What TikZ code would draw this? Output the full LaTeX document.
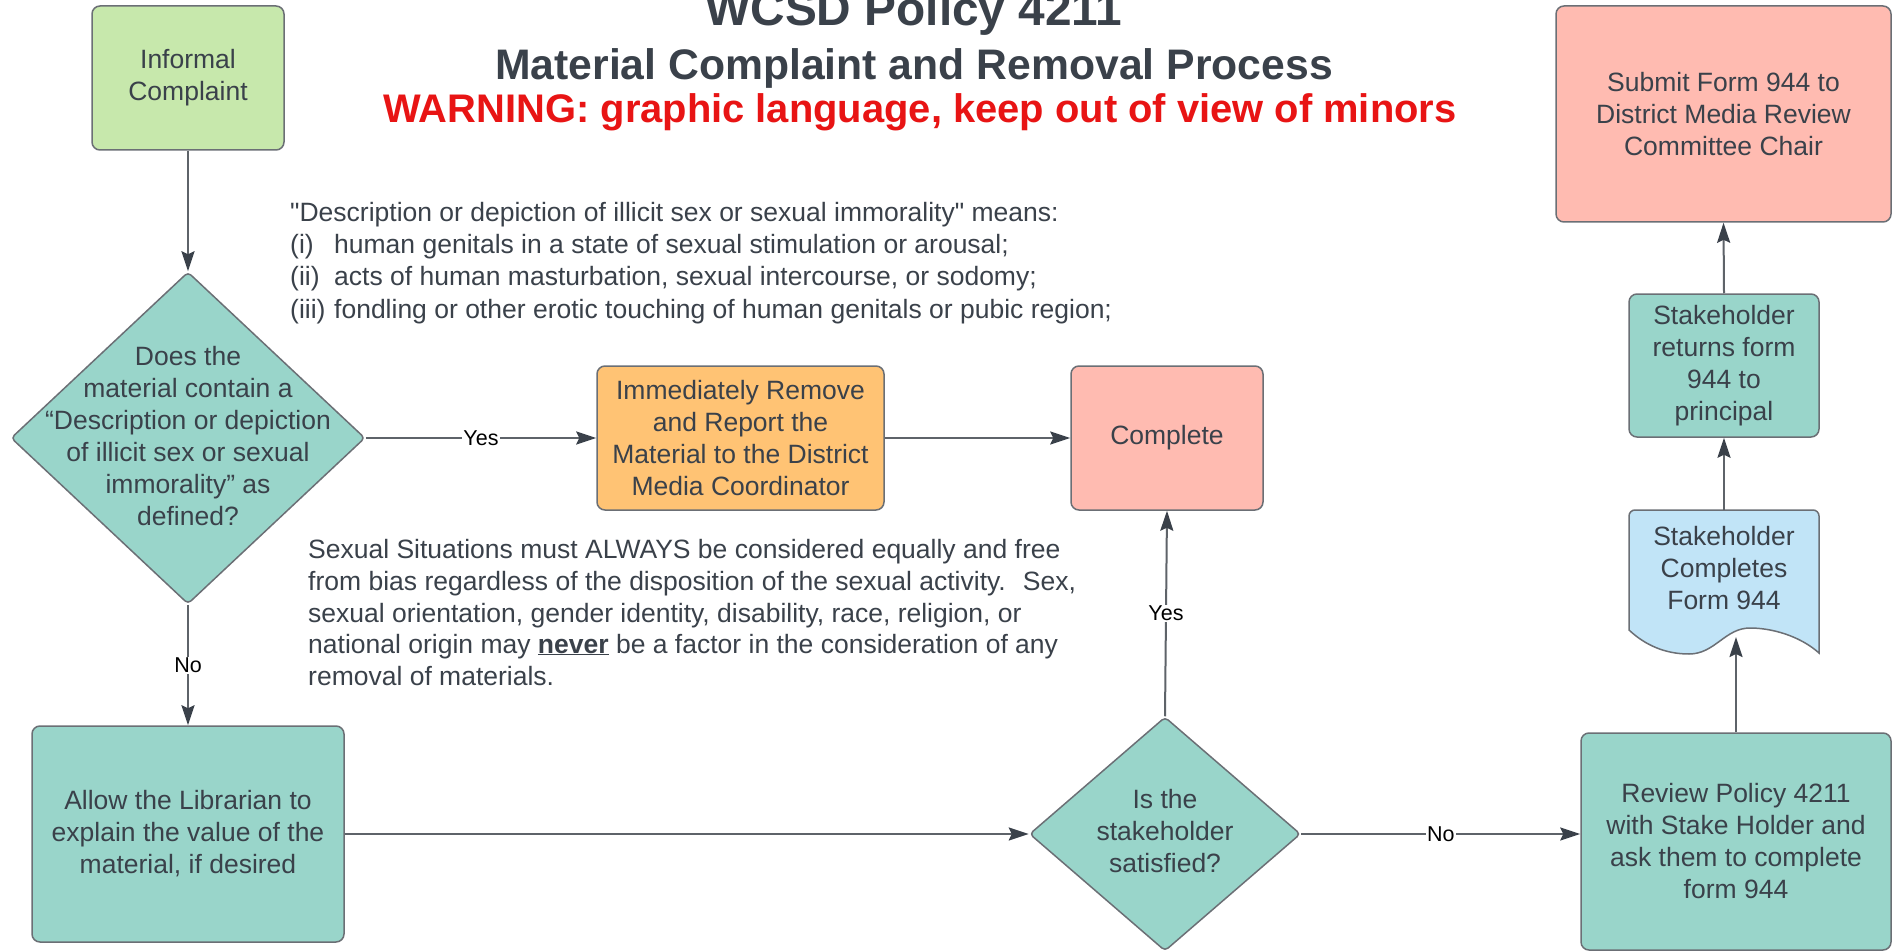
\documentclass[tikz,border=0pt]{standalone}
\usepackage{fontspec}
\setmainfont{Liberation Sans}[Ligatures=TeXOff]
\usetikzlibrary{shapes.geometric,arrows.meta}
\definecolor{txt}{HTML}{3A414A}
\definecolor{bord}{HTML}{6B6F75}
\definecolor{lgreen}{HTML}{C7E8AC}
\definecolor{tealc}{HTML}{99D5CA}
\definecolor{orng}{HTML}{FFC374}
\definecolor{pinkc}{HTML}{FFBBB1}
\definecolor{lblue}{HTML}{C1E4F7}
\definecolor{warn}{HTML}{E81414}
\definecolor{lineg}{HTML}{5E6369}
\begin{document}
\begin{tikzpicture}[x=1pt,y=-1pt,
  box/.style={draw=bord, line width=1.5pt, rounded corners=8pt, inner sep=0pt, align=center, text=txt, font=\fontsize{26.5}{32}\selectfont},
  dia/.style={draw=bord, line width=1.5pt, diamond, rounded corners=4pt, inner sep=0pt, fill=tealc},
  dtext/.style={align=center, inner sep=0pt, text=txt, font=\fontsize{26.5}{32}\selectfont},
  conn/.style={draw=lineg, line width=2pt, -{Stealth[length=20pt,width=13pt,inset=3pt,color=txt]}},
  lbl/.style={fill=white, inner sep=1pt, font=\fontsize{21.5}{24}\selectfont, text=black},
  body/.style={anchor=base west, inner sep=0pt, text=txt, font=\fontsize{26.5}{32}\selectfont}]
\fill[white] (0,0) rectangle (1896,952);
\useasboundingbox (0,0) rectangle (1896,952);

% titles
\node[anchor=base, font=\fontsize{47.8}{50}\selectfont\bfseries, text=txt] (t1) at (914,26) {WCSD Policy 4211};
\node[anchor=base, font=\fontsize{42.7}{46}\selectfont\bfseries, text=txt] (t2) at (914,80) {Material Complaint and Removal Process};
\node[anchor=base, font=\fontsize{39.9}{44}\selectfont\bfseries, text=warn] (t3) at (920,123) {WARNING: graphic language, keep out of view of minors};

% definition text
\node[body] (def1) at (290,222) {"Description or depiction of illicit sex or sexual immorality" means:};
\node[body] (def2) at (290,254) {\makebox[44pt][l]{(i)}human genitals in a state of sexual stimulation or arousal;};
\node[body] (def3) at (290,286) {\makebox[44pt][l]{(ii)}acts of human masturbation, sexual intercourse, or sodomy;};
\node[body] (def4) at (290,318) {\makebox[44pt][l]{(iii)}fondling or other erotic touching of human genitals or pubic region;};

\node[body] (sit1) at (308,558) {Sexual Situations must ALWAYS be considered equally and free};
\node[body] (sit2) at (308,590) {from bias regardless of the disposition of the sexual activity.~ Sex,};
\node[body] (sit3) at (308,622) {sexual orientation, gender identity, disability, race, religion, or};
\node[body] (sit4) at (308,653) {national origin may \underline{\textbf{never}} be a factor in the consideration of any};
\node[body] (sit5) at (308,685) {removal of materials.};

% boxes
\node[box, fill=lgreen, minimum width=192, minimum height=144] (inf) at (188,78) {Informal\\Complaint};
\node[dia, minimum width=354, minimum height=332] (d1) at (188,438) {};
\node[dtext] (d1t) at (188,436) {Does the\\material contain a\\“Description or depiction\\of illicit sex or sexual\\immorality” as\\defined?};
\node[box, fill=orng, minimum width=287, minimum height=144] (rem) at (740.5,438) {Immediately Remove\\and Report the\\Material to the District\\Media Coordinator};
\node[box, fill=pinkc, minimum width=192, minimum height=144] (cmp) at (1167,438) {Complete};
\node[box, fill=tealc, minimum width=312, minimum height=216] (lib) at (188,834) {Allow the Librarian to\\explain the value of the\\material, if desired};
\node[dia, minimum width=271, minimum height=234] (d2) at (1165,834) {};
\node[dtext] (d2t) at (1165,831) {Is the\\stakeholder\\satisfied?};
\node[box, fill=tealc, minimum width=310, minimum height=217] (rev) at (1736,841.5) {Review Policy 4211\\with Stake Holder and\\ask them to complete\\form 944};
\filldraw[draw=bord, fill=lblue, line width=1.5pt]
  (1629,630) [rounded corners=6pt] -- (1629,510) -- (1819,510) [sharp corners] -- (1819,653)
  .. controls (1800,636) and (1772,628) .. (1750,628)
  .. controls (1725,628) and (1715,654) .. (1689,654)
  .. controls (1665,654) and (1645,645) .. (1629,630) -- cycle;
\node[dtext] (cmpf) at (1724,568) {Stakeholder\\Completes\\Form 944};
\coordinate (doct) at (1724,510);
\coordinate (docb) at (1736,637);
\node[box, fill=tealc, minimum width=190, minimum height=143] (ret) at (1724,365.5) {Stakeholder\\returns form\\944 to\\principal};
\node[box, fill=pinkc, minimum width=335, minimum height=216] (sub) at (1723.5,114) {Submit Form 944 to\\District Media Review\\Committee Chair};

% connectors
\draw[conn] (inf.south) -- (d1.north);
\draw[conn] (d1.east) -- node[lbl] {Yes} (rem.west);
\draw[conn] (rem.east) -- (cmp.west);
\draw[conn] (d1.south) -- node[lbl] {No} (lib.north);
\draw[conn] (lib.east) -- (d2.west);
\draw[conn] (d2.north) -- node[lbl] {Yes} (cmp.south);
\draw[conn] (d2.east) -- node[lbl] {No} (d2.east -| rev.west);
\draw[conn] (rev.north) -- (docb);
\draw[conn] (doct) -- (ret.south);
\draw[conn] (ret.north) -- (sub.south);
\end{tikzpicture}
\end{document}
